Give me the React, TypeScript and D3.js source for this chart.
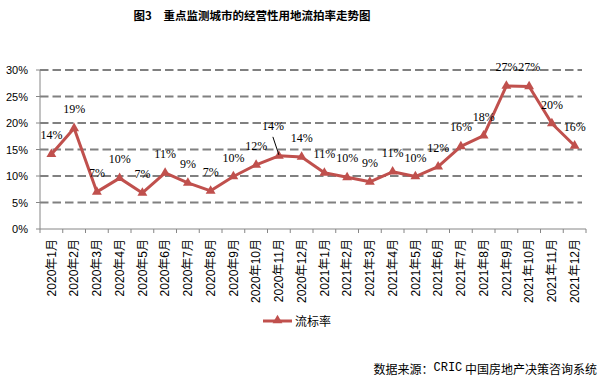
import React from "react";
import * as d3 from "d3";

const categories = [
  "2020年1月", "2020年2月", "2020年3月", "2020年4月", "2020年5月", "2020年6月",
  "2020年7月", "2020年8月", "2020年9月", "2020年10月", "2020年11月", "2020年12月",
  "2021年1月", "2021年2月", "2021年3月", "2021年4月", "2021年5月", "2021年6月",
  "2021年7月", "2021年8月", "2021年9月", "2021年10月", "2021年11月", "2021年12月",
];
const values = [
  14.1, 19.0, 7.0, 9.6, 6.8, 10.6, 8.7, 7.2, 9.9, 12.1, 13.8, 13.6,
  10.6, 9.75, 8.9, 10.8, 9.9, 11.75, 15.6, 17.6, 27.0, 26.9, 19.9, 15.7,
];
const yTicks = [0, 5, 10, 15, 20, 25, 30];
const title = "图3　重点监测城市的经营性用地流拍率走势图";
const seriesName = "流标率";
const sourcePrefix = "数据来源：";
const sourceMono = "CRIC";
const sourceRest = " 中国房地产决策咨询系统";

const RED = "#C0504D";
const CJK = "'Liberation Sans', 'Noto Sans CJK SC', sans-serif";

export default function App() {
  const x = d3.scaleBand<string>().domain(categories).range([40, 586]);
  const y = d3.scaleLinear().domain([0, 30]).range([229, 70]);
  const cx = (c: string) => (x(c) as number) + x.bandwidth() / 2;
  const line = d3
    .line<number>()
    .x((_, i) => cx(categories[i]))
    .y((v) => y(v));
  const tri = d3.symbol().type(d3.symbolTriangle).size(42)();

  return (
    <svg
      width={612}
      height={381}
      style={{ position: "absolute", left: 0, top: 0, background: "#fff" }}
    >
      <text
        x={252}
        y={15}
        textAnchor="middle"
        dominantBaseline="central"
        fontFamily="'Noto Sans CJK SC', sans-serif"
        fontWeight="bold"
        fontSize={11.5}
        fill="#000"
      >
        {title}
      </text>

      {/* gridlines */}
      {yTicks.slice(1).map((t) => (
        <line
          key={"g" + t}
          x1={40}
          x2={582}
          y1={y(t)}
          y2={y(t)}
          stroke="#808080"
          strokeWidth={2}
          strokeDasharray="8.5,4"
        />
      ))}

      {/* axes */}
      <line x1={40} x2={40} y1={70} y2={229} stroke="#868686" strokeWidth={1} />
      <line x1={40} x2={586} y1={229} y2={229} stroke="#868686" strokeWidth={1} />
      {yTicks.map((t) => (
        <g key={"yt" + t}>
          <line x1={36} x2={40} y1={y(t)} y2={y(t)} stroke="#868686" />
          <text
            x={28}
            y={y(t)}
            textAnchor="end"
            dominantBaseline="central"
            fontFamily="'Liberation Sans', Arial, sans-serif"
            fontSize={11}
            fill="#000"
          >
            {t + "%"}
          </text>
        </g>
      ))}
      {categories.map((c) => (
        <line
          key={"xt" + c}
          x1={x(c) as number}
          x2={x(c) as number}
          y1={229}
          y2={233}
          stroke="#868686"
        />
      ))}
      <line x1={586} x2={586} y1={229} y2={233} stroke="#868686" />
      {categories.map((c) => (
        <text
          key={"xl" + c}
          transform={`translate(${cx(c)},239) rotate(-90)`}
          textAnchor="end"
          dy="0.35em"
          fontFamily={CJK}
          fontSize={12}
          fill="#000"
        >
          {c}
        </text>
      ))}

      {/* series */}
      <path d={line(values) || ""} fill="none" stroke={RED} strokeWidth={3} strokeLinejoin="round" />
      {values.map((v, i) => (
        <path
          key={"m" + i}
          d={tri || ""}
          transform={`translate(${cx(categories[i])},${y(v)})`}
          fill={RED}
        />
      ))}

      {/* data labels */}
      {values.map((v, i) => {
        const px = cx(categories[i]);
        const py = y(v);
        const special = i === 10;
        const lx = special ? px - 6 : px;
        const ly = special ? py - 30 : py - 19;
        return (
          <g key={"l" + i}>
            {special && (
              <line x1={lx} y1={ly + 11} x2={px} y2={py - 1} stroke="#000" strokeWidth={1} />
            )}
            <text
              x={lx}
              y={ly}
              textAnchor="middle"
              dominantBaseline="central"
              fontFamily="'Liberation Serif', serif"
              fontSize={12}
              fill="#000"
            >
              {Math.round(v) + "%"}
            </text>
          </g>
        );
      })}

      {/* legend */}
      <line x1={263} x2={292} y1={321} y2={321} stroke={RED} strokeWidth={3} />
      <path d={tri || ""} transform="translate(277.5,320.5)" fill={RED} />
      <text
        x={295}
        y={320}
        dominantBaseline="central"
        fontFamily="'Noto Sans CJK SC', sans-serif"
        fontSize={12}
        fill="#000"
      >
        {seriesName}
      </text>

      {/* source */}
      <text
        x={597}
        y={368}
        textAnchor="end"
        dominantBaseline="central"
        fontFamily="'Noto Sans CJK SC', sans-serif"
        fontSize={12}
        fill="#000"
      >
        {sourcePrefix}
        <tspan fontFamily="'Liberation Mono', monospace">{sourceMono}</tspan>
        {sourceRest}
      </text>
    </svg>
  );
}
